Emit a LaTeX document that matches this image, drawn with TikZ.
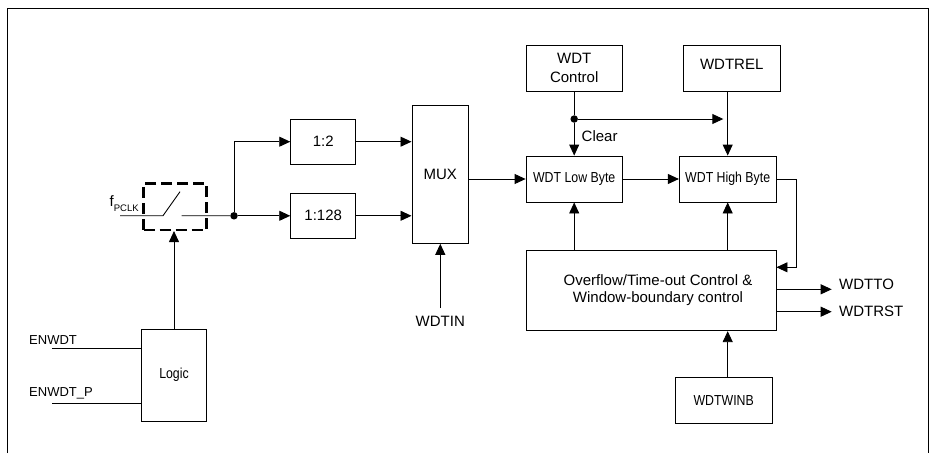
\documentclass[tikz,border=0pt]{standalone}
\usepackage{fontspec}
\setmainfont{Liberation Sans}
\usepackage{graphicx}
\usetikzlibrary{arrows.meta,calc}
\newcommand{\bigf}{\fontsize{15}{18}\selectfont}
\newcommand{\smallf}{\fontsize{14.5}{17}\selectfont}
\newcommand{\cond}[1]{\scalebox{0.85}[1]{#1}}
\begin{document}
\begin{tikzpicture}[x=1pt,y=-1pt,
  box/.style={draw, line width=0.9pt, inner sep=0pt, align=center, font=\bigf},
  arr/.style={line width=0.9pt, -{Triangle[length=11pt,width=10pt]}},
  wire/.style={line width=0.9pt},
  dot/.style={circle, fill, inner sep=0pt, minimum size=7.5pt},
  lbl/.style={inner sep=0pt, font=\bigf},
]
\useasboundingbox (0,0) rectangle (930,453);
\draw[line width=1pt] (7.5,453) -- (7.5,8.3) -- (928.5,8.3) -- (928.5,453);

% left part
\node[draw, line width=2.2pt, dash pattern=on 11pt off 5pt, minimum width=63pt, minimum height=46.5pt] (sw) at (175,206.7) {};
\node[dot] (d0) at (234,215.8) {};
\coordinate (fin) at (120,215.7);
\coordinate (s1) at (163,215.7);
\coordinate (s2) at (180,191.7);
\coordinate (s3) at (181.7,215.7);
\draw[wire] (fin) -- (s1) -- (s2);
\draw[wire] (s3) -- (d0);
\node[lbl, anchor=base west] (fpclk) at (109.5,206.7) {f\raisebox{-5pt}{\fontsize{9.5}{10}\selectfont PCLK}};

\node[box, font=\smallf, minimum width=65pt, minimum height=91.7pt] (logic) at (174,375.2) {\cond{Logic}};
\node[lbl, anchor=base west, font=\fontsize{13}{15}\selectfont] (enwdt) at (29,344.3) {ENWDT};
\node[lbl, anchor=base west, font=\fontsize{13}{15}\selectfont] (enwdtp) at (29,396.7) {ENWDT\_P};
\coordinate (e1) at (52,348);
\coordinate (e2) at (52,403.3);
\draw[wire] (e1) -- (e1 -| logic.west);
\draw[wire] (e2) -- (e2 -| logic.west);
\draw[arr] (logic.north) -- (logic.north |- sw.south);

% dividers and mux
\node[box, minimum width=65pt, minimum height=45.3pt] (d2) at (323.2,141.7) {1:2};
\node[box, minimum width=65pt, minimum height=45pt] (d128) at (323.2,215.8) {1:128};
\node[box, minimum width=56.7pt, minimum height=138.3pt] (mux) at (440.3,174.2) {MUX};
\node[lbl, anchor=base] (wdtin) at (440.3,326.7) {WDTIN};
\draw[arr] (d0) |- (d2.west);
\draw[arr] (d0) -- (d128.west);
\draw[arr] (d2.east) -- (d2.east -| mux.west);
\draw[arr] (d128.east) -- (d128.east -| mux.west);
\draw[arr] ([yshift=8pt]wdtin.north) -- (mux.south);

% right part
\node[box, font=\fontsize{15}{19}\selectfont, minimum width=96.3pt, minimum height=46.7pt] (ctrl) at (574.2,68.3) {WDT\\Control};
\node[box, minimum width=96.7pt, minimum height=46.7pt, text height=10.7pt, text depth=8pt] (rel) at (731.7,68.3) {WDTREL};
\node[box, font=\smallf, minimum width=96.3pt, minimum height=46pt] (low) at (574.2,179) {\cond{WDT Low Byte}};
\node[box, font=\smallf, minimum width=96.7pt, minimum height=46pt] (high) at (727.7,179) {\cond{WDT High Byte}};
\node[box, font=\fontsize{15}{17.4}\selectfont, minimum width=250pt, minimum height=80pt] (ovf) at (651,290.7) {\hspace*{14pt}\begin{tabular}{@{}c@{}}Overflow/Time-out Control \&\\Window-boundary control\end{tabular}};
\node[box, font=\smallf, minimum width=97.3pt, minimum height=46pt] (winb) at (723.7,400.3) {\cond{WDTWINB}};

\node[dot] (d1) at (574.2,119) {};
\node[lbl, anchor=base west] (clr) at (581.5,141.7) {Clear};
\coordinate (relend) at (723.3,119);
\draw[wire] (ctrl.south) -- (d1);
\draw[arr] (d1) -- (low.north);
\draw[arr] (d1) -- (relend);
\draw[arr] (high.north |- rel.south) -- (high.north);

\draw[arr] (mux.east |- low.west) -- (low.west);
\draw[arr] (low.east) -- (high.west);
\draw[arr] (ovf.north -| low) -- (low.south);
\draw[arr] (ovf.north -| high) -- (high.south);
\draw[arr] (winb.north -| high) -- (ovf.south -| high);
\coordinate (fb) at (796,267.3);
\draw[arr] (high.east) -| (fb) -- (ovf.east |- fb);

\coordinate (toend) at (831.7,289.3);
\coordinate (rstend) at (831.7,311.7);
\node[lbl, anchor=base west] (wto) at (839,289.3) {WDTTO};
\node[lbl, anchor=base west] (wrst) at (839,316) {WDTRST};
\draw[arr] (ovf.east |- toend) -- (toend);
\draw[arr] (ovf.east |- rstend) -- (rstend);
\end{tikzpicture}
\end{document}
